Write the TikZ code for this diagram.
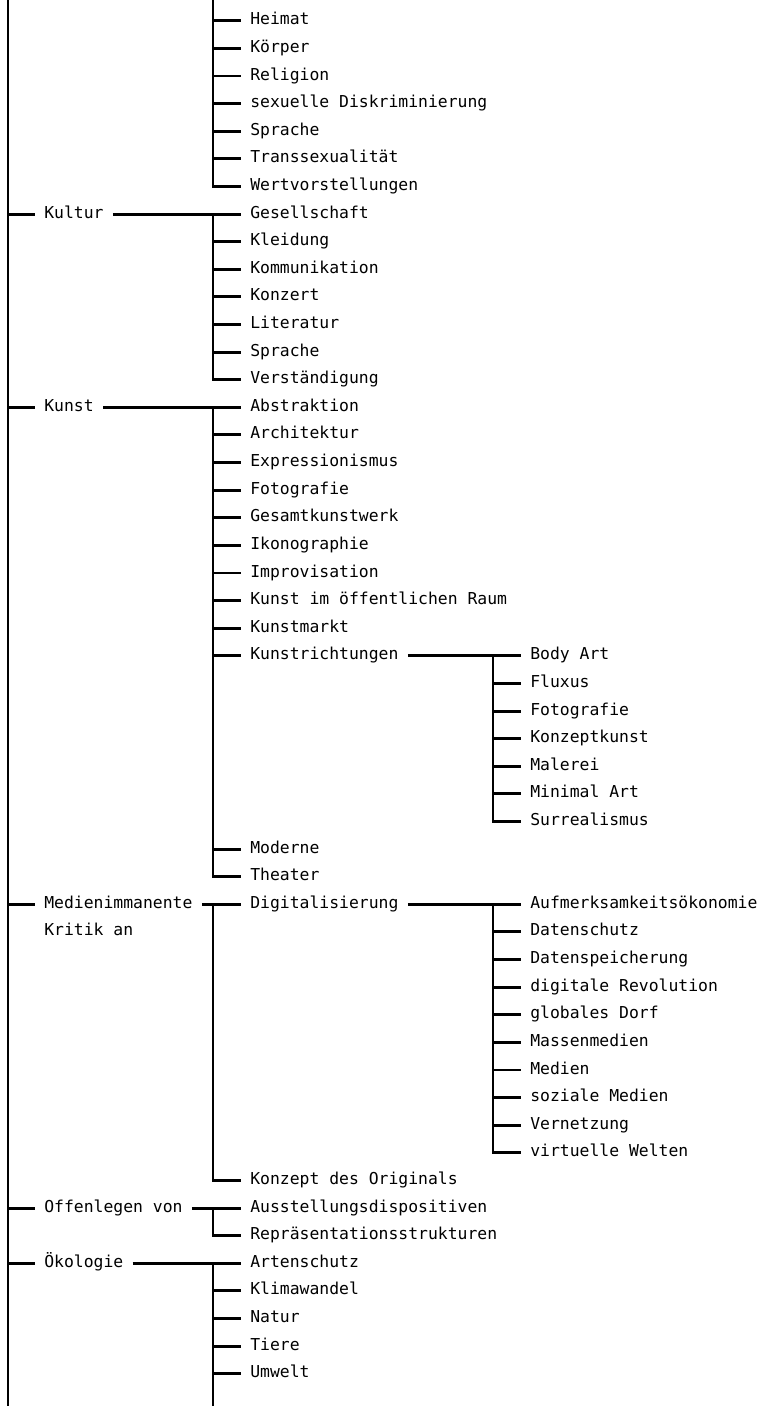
\documentclass[tikz,border=0pt]{standalone}
\usepackage{fontspec}
\newfontfamily\treefont{DejaVu Sans Mono}
\usetikzlibrary{positioning}

\tikzset{
  lbl/.style={font={\treefont\fontsize{12.3}{14}\selectfont}, inner xsep=7pt,
    inner ysep=4.354pt, outer sep=0pt, text height=9pt, text depth=3pt, anchor=west},
  nxt/.style={below=of #1.south west, anchor=north west},
  link/.style={line width=2.2pt},
}

\begin{document}
\begin{tikzpicture}[node distance=0pt]
\useasboundingbox (0,0) rectangle (571.5pt,-1054.5pt);
\coordinate (top) at (6pt,0);
\coordinate (bot) at (6pt,-1054.5pt);
\coordinate (v2) at (159.75pt,0);
\coordinate (v3) at (369.75pt,0);
\coordinate (c1) at (26.25pt,0);
\coordinate (c3) at (390.75pt,0);
% obere Gruppe
\node[lbl] (heimat) at (180.75pt,-15.6pt) {Heimat};
\node[lbl, nxt=heimat] (koerper) {Körper};
\node[lbl, nxt=koerper] (religion) {Religion};
\node[lbl, nxt=religion] (diskr) {sexuelle Diskriminierung};
\node[lbl, nxt=diskr] (sprache) {Sprache};
\node[lbl, nxt=sprache] (trans) {Transsexualität};
\node[lbl, nxt=trans] (werte) {Wertvorstellungen};
% Kultur
\node[lbl, nxt=werte] (gesellschaft) {Gesellschaft};
\node[lbl, nxt=gesellschaft] (kleidung) {Kleidung};
\node[lbl, nxt=kleidung] (kommunikation) {Kommunikation};
\node[lbl, nxt=kommunikation] (konzert) {Konzert};
\node[lbl, nxt=konzert] (literatur) {Literatur};
\node[lbl, nxt=literatur] (sprache2) {Sprache};
\node[lbl, nxt=sprache2] (verstaendigung) {Verständigung};
\node[lbl] (kultur) at (c1 |- gesellschaft.west) {Kultur};
% Kunst
\node[lbl, nxt=verstaendigung] (abstraktion) {Abstraktion};
\node[lbl, nxt=abstraktion] (architektur) {Architektur};
\node[lbl, nxt=architektur] (expressionismus) {Expressionismus};
\node[lbl, nxt=expressionismus] (fotografie) {Fotografie};
\node[lbl, nxt=fotografie] (gesamtkunstwerk) {Gesamtkunstwerk};
\node[lbl, nxt=gesamtkunstwerk] (ikonographie) {Ikonographie};
\node[lbl, nxt=ikonographie] (improvisation) {Improvisation};
\node[lbl, nxt=improvisation] (oeffentlich) {Kunst im öffentlichen Raum};
\node[lbl, nxt=oeffentlich] (kunstmarkt) {Kunstmarkt};
\node[lbl, nxt=kunstmarkt] (kunstrichtungen) {Kunstrichtungen};
\node[lbl] (bodyart) at (c3 |- kunstrichtungen.west) {Body Art};
\node[lbl, nxt=bodyart] (fluxus) {Fluxus};
\node[lbl, nxt=fluxus] (fotografie2) {Fotografie};
\node[lbl, nxt=fotografie2] (konzeptkunst) {Konzeptkunst};
\node[lbl, nxt=konzeptkunst] (malerei) {Malerei};
\node[lbl, nxt=malerei] (minimalart) {Minimal Art};
\node[lbl, nxt=minimalart] (surrealismus) {Surrealismus};
\node[lbl, anchor=north west] (moderne) at (heimat.west |- surrealismus.south) {Moderne};
\node[lbl, nxt=moderne] (theater) {Theater};
\node[lbl] (kunst) at (c1 |- abstraktion.west) {Kunst};
% Medienimmanente Kritik
\node[lbl, nxt=theater] (digitalisierung) {Digitalisierung};
\node[lbl] (aufmerksamkeit) at (c3 |- digitalisierung.west) {Aufmerksamkeitsökonomie};
\node[lbl, nxt=aufmerksamkeit] (datenschutz) {Datenschutz};
\node[lbl, nxt=datenschutz] (speicherung) {Datenspeicherung};
\node[lbl, nxt=speicherung] (revolution) {digitale Revolution};
\node[lbl, nxt=revolution] (dorf) {globales Dorf};
\node[lbl, nxt=dorf] (massenmedien) {Massenmedien};
\node[lbl, nxt=massenmedien] (medien) {Medien};
\node[lbl, nxt=medien] (sozial) {soziale Medien};
\node[lbl, nxt=sozial] (vernetzung) {Vernetzung};
\node[lbl, nxt=vernetzung] (virtuell) {virtuelle Welten};
\node[lbl, anchor=north west] (konzept) at (heimat.west |- virtuell.south) {Konzept des Originals};
\node[lbl] (immanent) at (c1 |- digitalisierung.west) {Medienimmanente};
\node[lbl, nxt=immanent] (kritik) {Kritik an};
% Offenlegen
\node[lbl, nxt=konzept] (ausstellung) {Ausstellungsdispositiven};
\node[lbl, nxt=ausstellung] (repraesentation) {Repräsentationsstrukturen};
\node[lbl] (offenlegen) at (c1 |- ausstellung.west) {Offenlegen von};
% Oekologie
\node[lbl, nxt=repraesentation] (artenschutz) {Artenschutz};
\node[lbl, nxt=artenschutz] (klimawandel) {Klimawandel};
\node[lbl, nxt=klimawandel] (natur) {Natur};
\node[lbl, nxt=natur] (tiere) {Tiere};
\node[lbl, nxt=tiere] (umwelt) {Umwelt};
\node[lbl] (oekologie) at (c1 |- artenschutz.west) {Ökologie};
% Stamm und erste Ebene
\draw[link] (top) -- (bot);
\draw[link] (top |- kultur.west) edge (kultur.west)
  (top |- kunst.west) edge (kunst.west)
  (top |- immanent.west) edge (immanent.west)
  (top |- offenlegen.west) edge (offenlegen.west)
  (top |- oekologie.west) edge (oekologie.west);
% zweite Ebene
\draw[link] (v2) |- (werte.west);
\draw[link] (kultur.east) -- (gesellschaft.west);
\draw[link] (v2 |- gesellschaft.west) |- (verstaendigung.west);
\draw[link] (kunst.east) -- (abstraktion.west);
\draw[link] (v2 |- abstraktion.west) |- (theater.west);
\draw[link] (immanent.east) -- (digitalisierung.west);
\draw[link] (v2 |- digitalisierung.west) |- (konzept.west);
\draw[link] (offenlegen.east) -- (ausstellung.west);
\draw[link] (v2 |- ausstellung.west) |- (repraesentation.west);
\draw[link] (oekologie.east) -- (artenschutz.west);
\draw[link] (v2 |- artenschutz.west) -- (v2 |- bot);
\draw[link] (v2 |- heimat.west) edge (heimat.west)
  (v2 |- koerper.west) edge (koerper.west)
  (v2 |- religion.west) edge (religion.west)
  (v2 |- diskr.west) edge (diskr.west)
  (v2 |- sprache.west) edge (sprache.west)
  (v2 |- trans.west) edge (trans.west)
  (v2 |- kleidung.west) edge (kleidung.west)
  (v2 |- kommunikation.west) edge (kommunikation.west)
  (v2 |- konzert.west) edge (konzert.west)
  (v2 |- literatur.west) edge (literatur.west)
  (v2 |- sprache2.west) edge (sprache2.west)
  (v2 |- architektur.west) edge (architektur.west)
  (v2 |- expressionismus.west) edge (expressionismus.west)
  (v2 |- fotografie.west) edge (fotografie.west)
  (v2 |- gesamtkunstwerk.west) edge (gesamtkunstwerk.west)
  (v2 |- ikonographie.west) edge (ikonographie.west)
  (v2 |- improvisation.west) edge (improvisation.west)
  (v2 |- oeffentlich.west) edge (oeffentlich.west)
  (v2 |- kunstmarkt.west) edge (kunstmarkt.west)
  (v2 |- kunstrichtungen.west) edge (kunstrichtungen.west)
  (v2 |- moderne.west) edge (moderne.west)
  (v2 |- klimawandel.west) edge (klimawandel.west)
  (v2 |- natur.west) edge (natur.west)
  (v2 |- tiere.west) edge (tiere.west)
  (v2 |- umwelt.west) edge (umwelt.west);
% dritte Ebene
\draw[link] (kunstrichtungen.east) -- (bodyart.west);
\draw[link] (v3 |- bodyart.west) |- (surrealismus.west);
\draw[link] (digitalisierung.east) -- (aufmerksamkeit.west);
\draw[link] (v3 |- aufmerksamkeit.west) |- (virtuell.west);
\draw[link] (v3 |- fluxus.west) edge (fluxus.west)
  (v3 |- fotografie2.west) edge (fotografie2.west)
  (v3 |- konzeptkunst.west) edge (konzeptkunst.west)
  (v3 |- malerei.west) edge (malerei.west)
  (v3 |- minimalart.west) edge (minimalart.west)
  (v3 |- datenschutz.west) edge (datenschutz.west)
  (v3 |- speicherung.west) edge (speicherung.west)
  (v3 |- revolution.west) edge (revolution.west)
  (v3 |- dorf.west) edge (dorf.west)
  (v3 |- massenmedien.west) edge (massenmedien.west)
  (v3 |- medien.west) edge (medien.west)
  (v3 |- sozial.west) edge (sozial.west)
  (v3 |- vernetzung.west) edge (vernetzung.west);
\end{tikzpicture}
\end{document}
